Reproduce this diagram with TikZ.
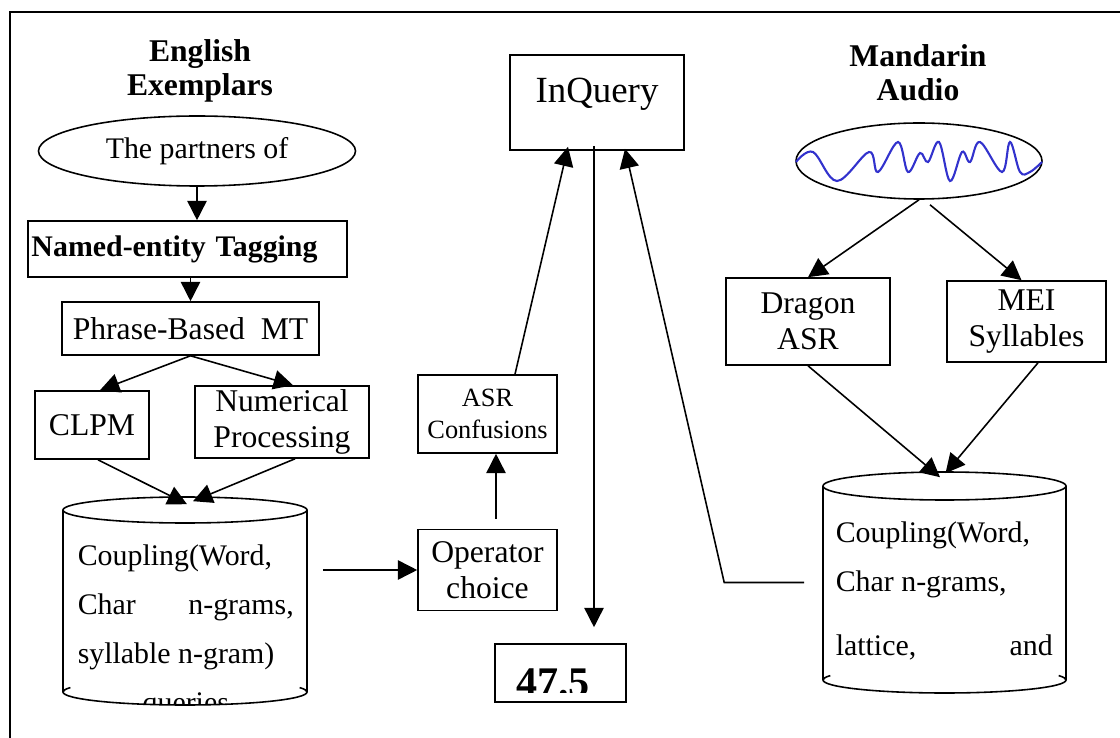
\documentclass[tikz,border=0pt]{standalone}
\usepackage{fontspec}
\setmainfont{Liberation Serif}
\usepackage{tikz}
\usetikzlibrary{arrows.meta,positioning,shapes}
\definecolor{wave}{RGB}{50,50,205}

\begin{document}
\begin{tikzpicture}[line width=0.9pt, >={Triangle[length=11pt,width=11pt]},
  box/.style={draw,rectangle,inner sep=1pt,align=center,font=\fontsize{18}{20.5}\selectfont},
  title/.style={align=center,font=\fontsize{18}{19.5}\selectfont\bfseries},
  oval/.style={draw,ellipse,inner sep=0pt}]
\useasboundingbox (0,0) rectangle (22.4,-14.76);
\draw[line width=1.1pt] (22.4,-0.24) -- (0.2,-0.24) -- (0.2,-14.76);

% English side
\node[title] (ttlEng) at (4.0,-1.42) {English\\Exemplars};
\node[oval,minimum width=6.34cm,minimum height=1.4cm,font=\fontsize{17}{20}\selectfont] (partners) at (3.94,-3.02) {The partners of};
\node[box,minimum width=6.38cm,minimum height=1.12cm,text width=6.24cm,align=left,font=\fontsize{17}{20}\selectfont\bfseries] (tag) at (3.75,-4.98) {Named-entity Tagging};
\node[box,minimum width=5.14cm,minimum height=1.06cm] (phrase) at (3.81,-6.57) {Phrase-Based~~MT};
\node[box,minimum width=2.28cm,minimum height=1.36cm] (clpm) at (1.84,-8.5) {CLPM};
\node[box,minimum width=3.48cm,minimum height=1.44cm] (numer) at (5.64,-8.44) {Numerical\\Processing};
\node[minimum width=4.88cm,minimum height=4.16cm,inner sep=0pt] (cylL) at (3.7,-12.02) {};
\draw (1.26,-10.2) -- (1.26,-13.84) arc[start angle=180,end angle=360,x radius=2.44cm,y radius=0.26cm] -- (6.14,-10.2);
\draw (3.7,-10.2) ellipse [x radius=2.44cm,y radius=0.26cm];
\draw (1.26,-13.84) arc[start angle=180,end angle=160,x radius=2.44cm,y radius=0.26cm];
\draw (6.14,-13.84) arc[start angle=0,end angle=20,x radius=2.44cm,y radius=0.26cm];
\begin{scope}
\clip (1.3,-10.5) rectangle (6.1,-14.06);
\node[anchor=base west,inner sep=0pt,font=\fontsize{17}{28}\selectfont] (qryL) at (1.54,-11.3)
  {\parbox[t]{4.32cm}{Coupling(Word,\\ Char\hfill n-grams,\\ syllable n-gram)\\ \hspace*{\fill}queries\hspace*{\fill}}};
\end{scope}

% middle
\node[box,minimum width=2.78cm,minimum height=1.62cm] (opch) at (9.75,-11.4) {Operator\\choice};
\node[box,minimum width=2.78cm,minimum height=1.56cm,font=\fontsize{15}{18}\selectfont] (asrc) at (9.75,-8.28) {ASR\\Confusions};
\node[box,minimum width=3.48cm,minimum height=1.9cm,font=\fontsize{21}{24}\selectfont,text height=14pt,text depth=14pt] (inq) at (11.94,-2.05) {InQuery};
\node[draw,minimum width=2.62cm,minimum height=1.16cm] (fin) at (11.21,-13.46) {};
\begin{scope}
\clip (9.94,-12.9) rectangle (12.48,-13.84);
\node[anchor=base,inner sep=0pt,font=\fontsize{24}{24}\selectfont\bfseries] (finTxt) at (11.06,-13.92) {47.5};
\end{scope}

% Mandarin side
\node[title] (ttlMan) at (18.36,-1.45) {Mandarin\\Audio};
\node[oval,minimum width=4.92cm,minimum height=1.52cm] (audio) at (18.38,-3.22) {};
\draw[wave,line width=1.2pt] plot[smooth,tension=0.6] coordinates {(15.92,-3.24) (16.26,-3.04) (16.74,-3.62) (17.38,-3.04) (17.56,-3.44) (17.96,-2.84) (18.16,-3.44) (18.40,-3.06) (18.56,-3.24) (18.78,-2.84) (19.0,-3.62) (19.24,-3.04) (19.40,-3.24) (19.60,-2.84) (20.04,-3.44) (20.20,-2.84) (20.40,-3.44) (20.60,-3.44) (20.84,-3.24)};
\node[box,minimum width=3.28cm,minimum height=1.74cm] (dragon) at (16.16,-6.43) {Dragon\\ASR};
\node[box,minimum width=3.18cm,minimum height=1.62cm] (mei) at (20.53,-6.43) {MEI\\Syllables};
\node[minimum width=4.86cm,minimum height=4.42cm,inner sep=0pt] (cylR) at (18.89,-11.65) {};
\draw (16.46,-9.72) -- (16.46,-13.6) arc[start angle=180,end angle=360,x radius=2.43cm,y radius=0.26cm] -- (21.32,-9.72);
\draw (18.89,-9.72) ellipse [x radius=2.43cm,y radius=0.28cm];
\draw (16.46,-13.6) arc[start angle=180,end angle=160,x radius=2.43cm,y radius=0.26cm];
\draw (21.32,-13.6) arc[start angle=0,end angle=20,x radius=2.43cm,y radius=0.26cm];
\node[anchor=base west,inner sep=0pt,font=\fontsize{17}{28}\selectfont] (qryR) at (16.7,-10.84)
  {\parbox[t]{4.34cm}{Coupling(Word,\\ Char n-grams,\\[0.3cm] lattice,\hfill and}};

% connectors
\draw[->] (partners.south) -- (partners.south |- tag.north);
\draw[->] (phrase.north |- tag.south) -- (phrase.north);
\draw[->] (phrase.south) -- ([xshift=0.16cm]clpm.north);
\draw[->] (phrase.south) -- ([xshift=0.22cm]numer.north);
\draw[->] ([xshift=0.12cm]clpm.south) -- ([xshift=0.04cm,yshift=-0.16cm]cylL.north);
\draw[->] ([xshift=0.26cm]numer.south) -- ([xshift=0.16cm,yshift=-0.1cm]cylL.north);
\draw[->] ([xshift=0.3cm]cylL.east |- opch.west) -- (opch.west);
\draw[->] ([xshift=0.17cm,yshift=0.2cm]opch.north) -- ([xshift=0.17cm]asrc.south);
\draw[->] ([xshift=0.55cm]asrc.north) -- ([xshift=-0.58cm,yshift=0.08cm]inq.south);
\draw[->] ([xshift=-0.06cm,yshift=0.1cm]inq.south) -- ([xshift=-0.06cm,yshift=0.32cm]inq.south |- fin.north);
\draw[->] ([xshift=-0.36cm]cylR.west) -- ++(-1.6,0) -- ([xshift=0.56cm,yshift=0.04cm]inq.south);
\draw[->] (audio.south) -- (dragon.north);
\draw[->] ([xshift=0.22cm,yshift=-0.1cm]audio.south) -- ([xshift=-0.1cm]mei.north);
\draw[->] (dragon.south) -- ([xshift=-0.09cm,yshift=-0.12cm]cylR.north);
\draw[->] ([xshift=0.23cm]mei.south) -- ([xshift=0.02cm,yshift=-0.04cm]cylR.north);
\end{tikzpicture}
\end{document}
